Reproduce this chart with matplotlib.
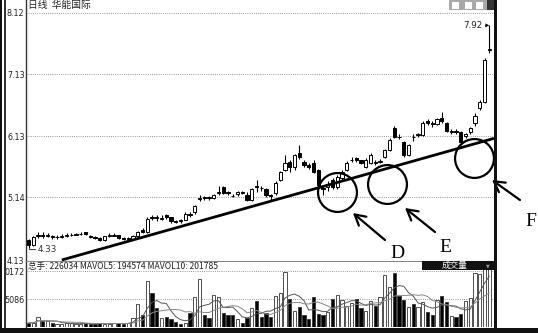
"""K线图：华能国际日线，趋势线与成交量。"""

import matplotlib
matplotlib.use("Agg")
import matplotlib.pyplot as plt
import pandas as pd
from matplotlib.patches import Rectangle

CJK = ["Noto Sans CJK SC", "DejaVu Sans"]

# --- data ---
opens = [
    4.45, 4.38, 4.52, 4.53, 4.52, 4.51, 4.50, 4.50, 4.52, 4.53,
    4.54, 4.55, 4.58, 4.51, 4.50, 4.49, 4.45, 4.52, 4.53, 4.53,
    4.48, 4.47, 4.47, 4.52, 4.62, 4.58, 4.82, 4.82, 4.80, 4.86,
    4.82, 4.76, 4.77, 4.78, 4.87, 4.90, 5.12, 5.14, 5.14, 5.13,
    5.21, 5.31, 5.22, 5.17, 5.19, 5.22, 5.18, 5.10, 5.32, 5.30,
    5.28, 5.18, 5.21, 5.42, 5.58, 5.71, 5.63, 5.86, 5.72, 5.66,
    5.70, 5.58, 5.29, 5.31, 5.42, 5.31, 5.45, 5.58, 5.74, 5.77,
    5.74, 5.64, 5.70, 5.71, 5.72, 5.79, 5.91, 6.26, 6.12, 6.04,
    5.83, 6.12, 6.15, 6.15, 6.38, 6.34, 6.33, 6.43, 6.35, 6.20,
    6.21, 6.20, 6.13, 6.19, 6.34, 6.58, 6.68, 7.52,
]
closes = [
    4.38, 4.50, 4.53, 4.52, 4.53, 4.50, 4.50, 4.51, 4.53, 4.54,
    4.55, 4.55, 4.55, 4.50, 4.49, 4.45, 4.51, 4.53, 4.53, 4.48,
    4.47, 4.48, 4.52, 4.58, 4.58, 4.80, 4.81, 4.81, 4.81, 4.82,
    4.76, 4.75, 4.76, 4.88, 4.86, 5.00, 5.13, 5.13, 5.13, 5.18,
    5.22, 5.21, 5.21, 5.16, 5.23, 5.21, 5.10, 5.27, 5.31, 5.29,
    5.18, 5.17, 5.38, 5.55, 5.70, 5.63, 5.83, 5.79, 5.66, 5.64,
    5.55, 5.34, 5.27, 5.36, 5.31, 5.47, 5.55, 5.70, 5.75, 5.74,
    5.70, 5.75, 5.83, 5.70, 5.73, 5.91, 6.07, 6.12, 6.11, 5.83,
    5.99, 6.11, 6.16, 6.34, 6.34, 6.33, 6.40, 6.37, 6.22, 6.21,
    6.20, 6.04, 6.16, 6.26, 6.45, 6.68, 7.36, 7.54,
]
highs = [
    4.47, 4.52, 4.58, 4.58, 4.57, 4.53, 4.53, 4.55, 4.56, 4.57,
    4.57, 4.58, 4.59, 4.53, 4.52, 4.50, 4.52, 4.57, 4.57, 4.54,
    4.50, 4.50, 4.53, 4.60, 4.64, 4.82, 4.86, 4.85, 4.85, 4.87,
    4.83, 4.78, 4.79, 4.90, 4.90, 5.02, 5.18, 5.17, 5.16, 5.20,
    5.33, 5.33, 5.24, 5.20, 5.25, 5.25, 5.23, 5.29, 5.42, 5.33,
    5.30, 5.20, 5.40, 5.57, 5.83, 5.74, 5.85, 5.99, 5.74, 5.70,
    5.75, 5.60, 5.32, 5.40, 5.45, 5.50, 5.58, 5.73, 5.79, 5.79,
    5.75, 5.77, 5.86, 5.74, 5.76, 5.93, 6.10, 6.30, 6.16, 6.06,
    6.01, 6.16, 6.18, 6.38, 6.40, 6.37, 6.42, 6.52, 6.36, 6.24,
    6.24, 6.22, 6.18, 6.28, 6.50, 6.72, 7.40, 7.92,
]
lows = [
    4.33, 4.36, 4.49, 4.49, 4.50, 4.47, 4.47, 4.48, 4.50, 4.52,
    4.53, 4.53, 4.54, 4.48, 4.47, 4.44, 4.44, 4.50, 4.51, 4.47,
    4.45, 4.45, 4.46, 4.51, 4.56, 4.57, 4.77, 4.76, 4.77, 4.80,
    4.73, 4.72, 4.72, 4.77, 4.83, 4.88, 5.08, 5.10, 5.10, 5.12,
    5.18, 5.19, 5.18, 5.14, 5.17, 5.19, 5.08, 5.08, 5.23, 5.25,
    5.15, 5.10, 5.18, 5.40, 5.56, 5.55, 5.58, 5.76, 5.64, 5.60,
    5.53, 5.32, 5.18, 5.24, 5.28, 5.28, 5.42, 5.56, 5.72, 5.72,
    5.68, 5.62, 5.68, 5.67, 5.69, 5.77, 5.89, 6.10, 6.08, 5.80,
    5.81, 6.06, 6.12, 6.13, 6.31, 6.28, 6.31, 6.35, 6.20, 6.16,
    6.16, 6.01, 6.10, 6.17, 6.30, 6.55, 6.66, 7.48,
]
volumes = [
    750, 750, 1900, 1100, 1100, 700, 600, 550, 650, 650,
    550, 600, 750, 550, 600, 700, 550, 600, 650, 700,
    600, 750, 1700, 4100, 2100, 8300, 6200, 3400, 1700, 1900,
    1500, 950, 600, 750, 2600, 5450, 8800, 2100, 1700, 5800,
    5450, 2600, 2100, 2250, 1500, 750, 1700, 3400, 4700, 1900,
    2600, 1900, 5650, 6200, 10000, 5100, 3000, 3600, 2250, 1500,
    5450, 2450, 2250, 2650, 5100, 5850, 4900, 3750, 4300, 5100,
    3400, 3000, 4700, 3750, 5450, 9400, 7300, 9800, 5650, 4900,
    3600, 4150, 3600, 4500, 2650, 2250, 4900, 5650, 4500, 2050,
    1900, 2450, 4700, 5250, 9800, 9600, 10500, 10900,
]
price_ticks = [4.13, 5.14, 6.13, 7.13, 8.12]
vol_ticks = [5086, 10172]
vol_tick_labels = ["5086", "0172"]
high_mark = 7.92
low_mark = 4.33

W, H = 538, 333


def fx(x):
    return x / W


def fy(y):
    return 1 - y / H


def fig_rect(fig, x0, y0, x1, y1, color):
    fig.add_artist(Rectangle((fx(x0), fy(y1)), (x1 - x0) / W, (y1 - y0) / H,
                             transform=fig.transFigure, color=color, lw=0))


def main():
    df = pd.DataFrame({"open": opens, "close": closes, "high": highs,
                       "low": lows, "vol": volumes})
    df["x"] = range(len(df))
    df["down"] = df["close"] < df["open"]
    df["ma5"] = df["vol"].rolling(5, min_periods=1).mean()
    df["ma10"] = df["vol"].rolling(10, min_periods=1).mean()

    fig = plt.figure(figsize=(W / 100, H / 100), dpi=100)
    fig.patch.set_facecolor("white")

    ax = fig.add_axes([fx(26), fy(261), (494 - 26) / W, 261 / H])
    vax = fig.add_axes([fx(26), fy(327), (494 - 26) / W, (327 - 261) / H])

    per_px = (8.12 - 4.13) / 247
    ax.set_xlim(-0.53, 98.0)
    ax.set_ylim(4.13 - per_px, 8.12 + 13 * per_px)
    vax.set_xlim(-0.53, 98.0)
    vax.set_ylim(0, 12000)

    dot = (0, (1, 1.6))
    for t in price_ticks[1:]:
        ax.axhline(t, color="#777777", lw=0.6, ls=dot, zorder=0)
    for t in vol_ticks:
        vax.axhline(t, color="#777777", lw=0.6, ls=dot, zorder=0)

    # candles
    ax.vlines(df["x"], df["low"], df["high"], color="black", lw=0.8, zorder=2)
    body = (df["close"] - df["open"]).where(
        (df["close"] - df["open"]).abs() > 0.012, 0.012)
    bottom = df[["open", "close"]].min(axis=1).where(
        (df["close"] - df["open"]).abs() > 0.012,
        (df["open"] + df["close"]) / 2 - 0.006)
    ax.bar(df["x"], body.abs(), bottom=bottom, width=0.72,
           color=["black" if d else "white" for d in df["down"]],
           edgecolor="black", lw=0.7, zorder=3)

    # trend line
    ax.plot([7.0, 98.0], [4.13, 6.095], color="black", lw=2.0, zorder=4,
            solid_capstyle="butt")

    # circles, arrows, letters
    for cx, cy in [(64.95, 5.228), (75.5, 5.358), (93.8, 5.778)]:
        ax.plot(cx, cy, marker="o", ms=28, mfc="none", mec="black", mew=1.6,
                zorder=5, clip_on=False)
    arrows = [((68.3, 4.889), (75.05, 4.453)),
              ((79.26, 4.970), (85.58, 4.582)),
              ((97.58, 5.422), (103.47, 5.099))]
    for tip, tail in arrows:
        ax.annotate("", xy=tip, xytext=tail, annotation_clip=False,
                    arrowprops=dict(arrowstyle="->,head_length=0.75,head_width=0.42",
                                    lw=1.6, color="black",
                                    shrinkA=0, shrinkB=0))
    for lab, lx, ly in [("D", 77.6, 4.243), ("E", 87.7, 4.34), ("F", 105.8, 4.76)]:
        ax.text(lx, ly, lab, family=["Liberation Serif", "DejaVu Serif"],
                fontsize=14, ha="center", va="center", clip_on=False)

    # high / low markers
    ax.annotate(f"{high_mark:.2f}", xy=(97, high_mark), xytext=(95.6, high_mark),
                ha="right", va="center", fontsize=6.3, color="#222222",
                arrowprops=dict(arrowstyle="->,head_length=0.3,head_width=0.15",
                                lw=0.7, color="black", shrinkA=0, shrinkB=0))
    ax.annotate(f"{low_mark:.2f}", xy=(0, low_mark), xytext=(2.0, low_mark - 0.03),
                ha="left", va="center", fontsize=6.3, color="#333333",
                arrowprops=dict(arrowstyle="-", lw=0.7, color="#333333",
                                shrinkA=0, shrinkB=0,
                                connectionstyle="angle,angleA=0,angleB=90"))

    # volume bars and MAs
    vax.bar(df["x"], df["vol"], width=0.72,
            color=["black" if d else "white" for d in df["down"]],
            edgecolor="#333333", lw=0.6, zorder=2)
    vax.plot(df["x"], df["ma5"], color="#555555", lw=0.7, zorder=3)
    vax.plot(df["x"], df["ma10"], color="#888888", lw=0.7, zorder=3)

    for a in (ax, vax):
        a.set_xticks([])
        for s in ("right", "bottom", "top"):
            a.spines[s].set_visible(False)
        a.spines["left"].set_color("#333333")
        a.spines["left"].set_linewidth(1.0)
        a.tick_params(axis="y", length=0, pad=1.0, labelsize=5.8,
                      labelcolor="#222222")
        a.set_facecolor("none")
    ax.set_yticks(price_ticks)
    ax.set_yticklabels([f"{t:.2f}" for t in price_ticks])
    vax.set_yticks(vol_ticks)
    vax.set_yticklabels(vol_tick_labels)
    vax.spines["top"].set_visible(True)
    vax.spines["top"].set_color("#888888")
    vax.spines["top"].set_linewidth(0.8)

    # headers
    fig.text(fx(28), fy(5), "日线  华能国际", family=CJK, fontsize=7,
             va="center", color="#222222")
    fig.text(fx(28), fy(266), "总手: 226034 MAVOL5: 194574 MAVOL10: 201785",
             family=CJK, fontsize=6.2, va="center", color="#222222")
    fig_rect(fig, 422, 261, 494, 270, "#111111")
    fig.text(fx(455), fy(265.5), "成交量", family=CJK, fontsize=6.2,
             va="center", ha="center", color="white")
    fig.text(fx(488), fy(265.5), "▼", fontsize=3.5, va="center",
             ha="center", color="#999999")

    # window toolbar / frame
    fig_rect(fig, 449, 0, 487, 10, "#a8a8a8")
    for x0 in (452, 465, 476):
        fig_rect(fig, x0, 2, x0 + 7, 9, "white")
    fig_rect(fig, 487, 0, 494, 10, "#333333")
    fig_rect(fig, 0, 0, 2, 328, "#111111")
    fig_rect(fig, 4, 0, 6, 328, "#333333")
    fig_rect(fig, 494, 0, 497, 328, "#111111")
    fig_rect(fig, 0, 328, W, H, "#111111")

    fig.savefig("out.png", dpi=100)


if __name__ == "__main__":
    main()
